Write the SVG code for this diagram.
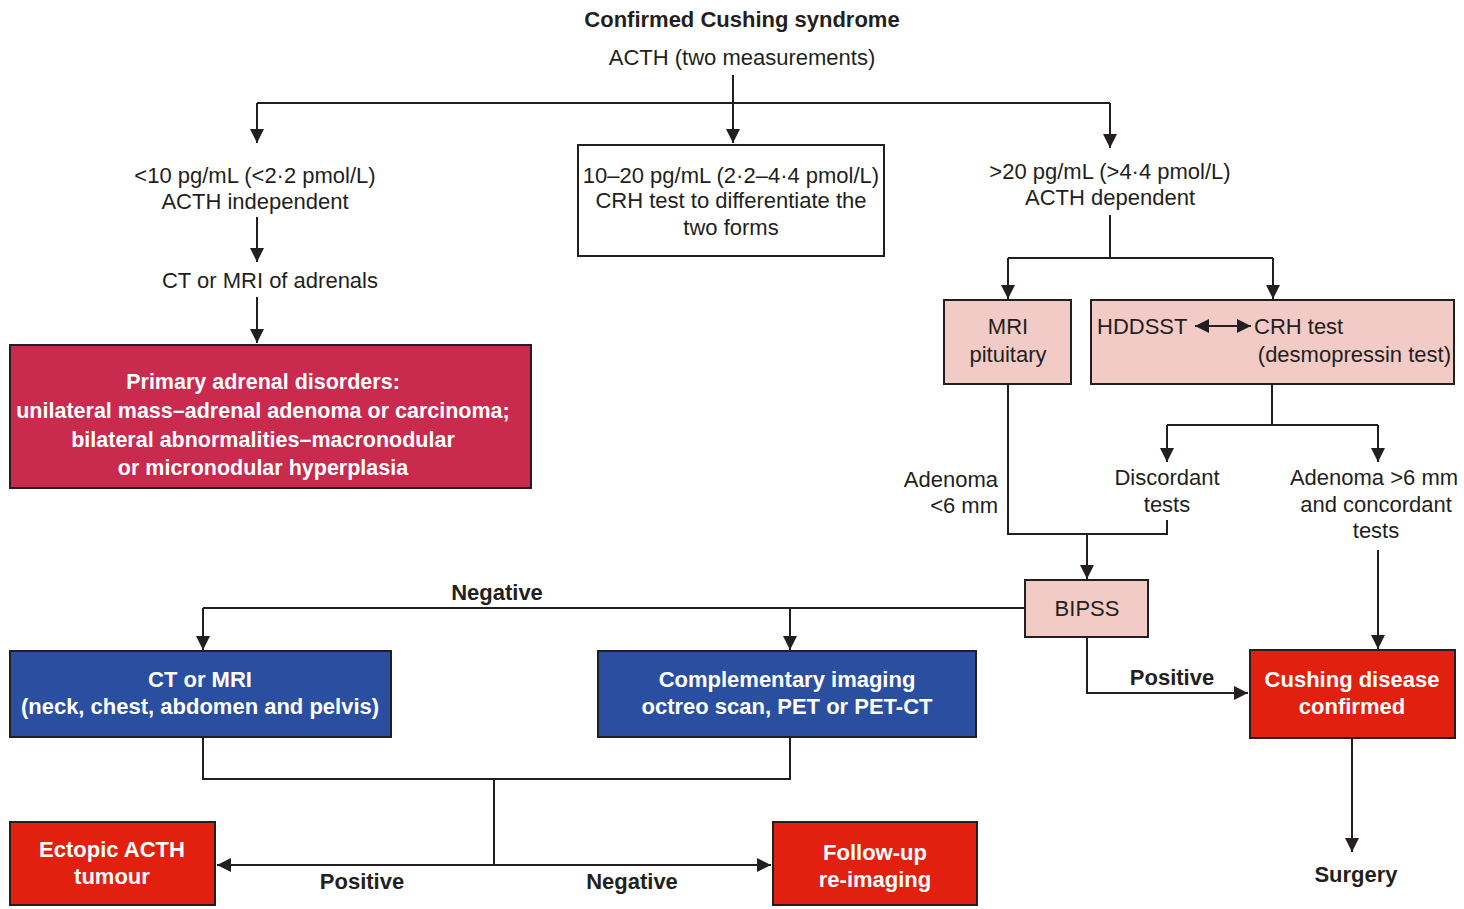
<svg xmlns="http://www.w3.org/2000/svg" width="1464" height="909" viewBox="0 0 1464 909">
<defs>
<marker id="ah" viewBox="0 0 14 14" refX="14" refY="7" markerWidth="14" markerHeight="14" markerUnits="userSpaceOnUse" orient="auto-start-reverse">
<path d="M0,0 L14,7 L0,14 Z" fill="#231f20"/>
</marker>
<style>
text{font-family:"Liberation Sans",Arial,sans-serif;fill:#231f20;font-size:22px;text-anchor:middle}
.b{font-weight:bold}
.w{fill:#ffffff;font-weight:bold}
.c{fill:none;stroke:#231f20;stroke-width:2}
.a{marker-end:url(#ah)}
.box{stroke:#231f20;stroke-width:2}
.white{fill:#ffffff}
.pink{fill:#f2cbc6}
.crim{fill:#c92a4e}
.blue{fill:#2b4fa0}
.red{fill:#e1200f}
</style>
</defs>
<rect width="1464" height="909" fill="#ffffff"/>

<g id="connectors">
<path class="c a" d="M733,75 V143"/>
<path class="c" d="M257,103 H1110"/>
<path class="c a" d="M257,103 V143"/>
<path class="c a" d="M1110,103 V148"/>
<path class="c a" d="M257,217 V262"/>
<path class="c a" d="M257,297 V343"/>
<path class="c" d="M1110,215 V258 H1273 M1110,258 H1008"/>
<path class="c a" d="M1008,258 V299"/>
<path class="c a" d="M1273,258 V299"/>
<path class="c" d="M1008,384 V534 H1167 V520"/>
<path class="c a" d="M1087,534 V579"/>
<path class="c" d="M1272,384 V425 H1378 M1272,425 H1167"/>
<path class="c a" d="M1167,425 V462"/>
<path class="c a" d="M1378,425 V462"/>
<path class="c a" d="M1378,550 V649"/>
<path class="c a" d="M1087,637 V693 H1248"/>
<path class="c a" d="M1352,738 V852"/>
<path class="c" d="M1025,608 H203"/>
<path class="c a" d="M203,608 V650"/>
<path class="c a" d="M790,608 V650"/>
<path class="c" d="M203,737 V779 H790 V737 M494,779 V865"/>
<path class="c a" d="M494,865 H217"/>
<path class="c a" d="M494,865 H771"/>
</g>

<g id="title">
<text class="b" x="742" y="27">Confirmed Cushing syndrome</text>
<text x="742" y="65">ACTH (two measurements)</text>
</g>

<g id="low-acth">
<text x="255" y="183">&lt;10 pg/mL (&lt;2·2 pmol/L)</text>
<text x="255" y="209">ACTH independent</text>
</g>

<g id="mid-acth">
<rect class="box white" x="578" y="145" width="306" height="111"/>
<text x="731" y="183">10–20 pg/mL (2·2–4·4 pmol/L)</text>
<text x="731" y="208">CRH test to differentiate the</text>
<text x="731" y="235">two forms</text>
</g>

<g id="high-acth">
<text x="1110" y="179">&gt;20 pg/mL (&gt;4·4 pmol/L)</text>
<text x="1110" y="205">ACTH dependent</text>
</g>

<g id="ct-adrenals">
<text x="270" y="288">CT or MRI of adrenals</text>
</g>

<g id="primary-adrenal">
<rect class="box crim" x="10" y="345" width="521" height="143"/>
<text class="w" x="263" y="389" style="font-size:21.5px">Primary adrenal disorders:</text>
<text class="w" x="263" y="418" style="font-size:21.5px">unilateral mass–adrenal adenoma or carcinoma;</text>
<text class="w" x="263" y="447" style="font-size:21.5px">bilateral abnormalities–macronodular</text>
<text class="w" x="263" y="475" style="font-size:21.5px">or micronodular hyperplasia</text>
</g>

<g id="mri-pituitary">
<rect class="box pink" x="944" y="300" width="127" height="84"/>
<text x="1008" y="334">MRI</text>
<text x="1008" y="362">pituitary</text>
</g>

<g id="hddsst">
<rect class="box pink" x="1091" y="300" width="363" height="84"/>
<text x="1097" y="334" style="text-anchor:start">HDDSST</text>
<path class="c" d="M1195,326 H1251" style="marker-start:url(#ah);marker-end:url(#ah)"/>
<text x="1254" y="334" style="text-anchor:start">CRH test</text>
<text x="1451" y="362" style="text-anchor:end">(desmopressin test)</text>
</g>

<g id="adenoma-small">
<text x="998" y="487" style="text-anchor:end">Adenoma</text>
<text x="998" y="513" style="text-anchor:end">&lt;6 mm</text>
</g>

<g id="discordant">
<text x="1167" y="485">Discordant</text>
<text x="1167" y="512">tests</text>
</g>

<g id="adenoma-large">
<text x="1374" y="485">Adenoma &gt;6 mm</text>
<text x="1376" y="512">and concordant</text>
<text x="1376" y="538">tests</text>
</g>

<g id="bipss">
<rect class="box pink" x="1025" y="580" width="123" height="57"/>
<text x="1087" y="616">BIPSS</text>
</g>

<g id="labels">
<text class="b" x="497" y="600">Negative</text>
<text class="b" x="1172" y="685">Positive</text>
<text class="b" x="362" y="889">Positive</text>
<text class="b" x="632" y="889">Negative</text>
</g>

<g id="cushing-disease">
<rect class="box red" x="1250" y="650" width="205" height="88"/>
<text class="w" x="1352" y="687">Cushing disease</text>
<text class="w" x="1352" y="714">confirmed</text>
</g>

<g id="surgery">
<text class="b" x="1356" y="882">Surgery</text>
</g>

<g id="ct-mri-body">
<rect class="box blue" x="10" y="651" width="381" height="86"/>
<text class="w" x="200" y="687">CT or MRI</text>
<text class="w" x="200" y="714">(neck, chest, abdomen and pelvis)</text>
</g>

<g id="complementary">
<rect class="box blue" x="598" y="651" width="378" height="86"/>
<text class="w" x="787" y="687">Complementary imaging</text>
<text class="w" x="787" y="714">octreo scan, PET or PET-CT</text>
</g>

<g id="ectopic">
<rect class="box red" x="10" y="822" width="205" height="83"/>
<text class="w" x="112" y="857">Ectopic ACTH</text>
<text class="w" x="112" y="884">tumour</text>
</g>

<g id="follow-up">
<rect class="box red" x="773" y="822" width="204" height="83"/>
<text class="w" x="875" y="860">Follow-up</text>
<text class="w" x="875" y="887">re-imaging</text>
</g>
</svg>
